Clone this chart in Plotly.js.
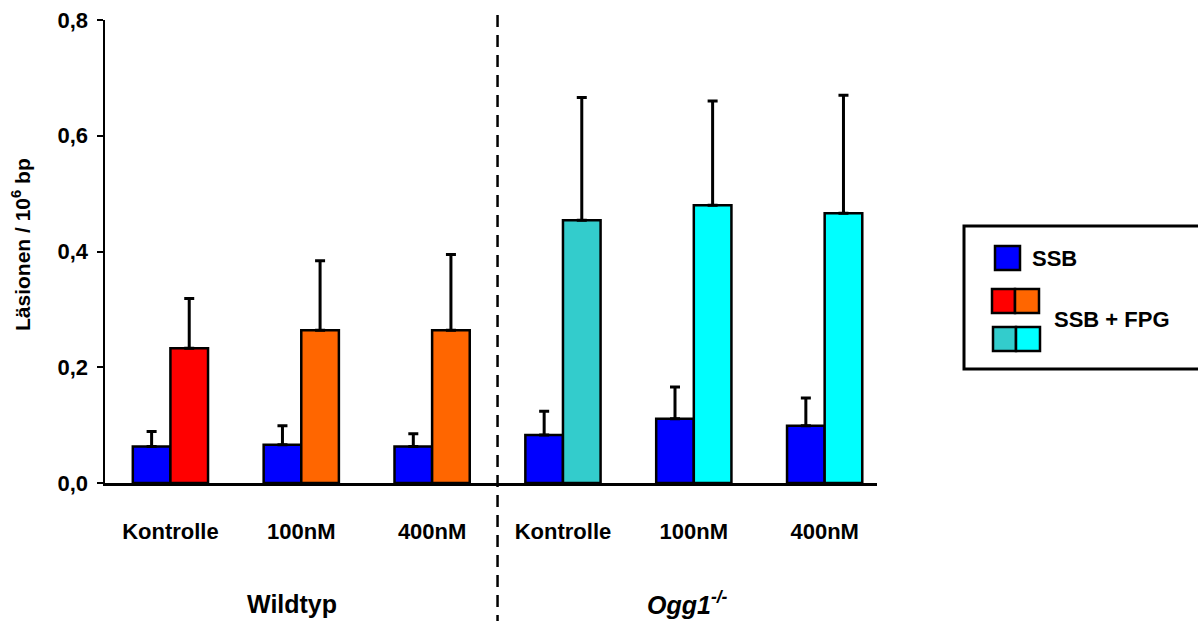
<!DOCTYPE html>
<html>
<head>
<meta charset="utf-8">
<script src="https://cdn.plot.ly/plotly-3.0.1.min.js"></script>
<style>html,body{margin:0;padding:0;background:#fff;}#chart{width:1198px;height:621px;}</style>
</head>
<body>
<div id="chart"></div>
<script>
// ---- data ----
const categories = ["Kontrolle", "100nM", "400nM", "Kontrolle", "100nM", "400nM"];
const groups = ["Wildtyp", "Ogg1"];
const ssbValues = [0.063, 0.066, 0.063, 0.083, 0.111, 0.099];
const ssbErrors = [0.026, 0.033, 0.022, 0.041, 0.055, 0.048];
const fpgValues = [0.233, 0.264, 0.264, 0.454, 0.480, 0.466];
const fpgErrors = [0.086, 0.120, 0.131, 0.212, 0.180, 0.204];
const yTickVals = [0, 0.2, 0.4, 0.6, 0.8];
const yTickText = ["0,0", "0,2", "0,4", "0,6", "0,8"];

// ---- styles ----
const ssbColor = "#0000FF";
const fpgColors = ["#FF0000", "#FF6600", "#FF6600", "#33CCCC", "#00FFFF", "#00FFFF"];
const FONT = "Liberation Sans, Arial, sans-serif";
const W = 1198, H = 621;
const L = 105, R = 877, T = 20, B = 483;
const px = x => (x - L) / (R - L);
const py = y => (B - y) / (B - T);

const xIdx = categories.map((_, i) => i);
const errStyle = {type: "data", symmetric: false, color: "#000", thickness: 3, width: 5};

const traces = [
  {
    type: "bar", name: "SSB", x: xIdx, y: ssbValues,
    marker: {color: ssbColor, line: {color: "#000", width: 2.5}},
    error_y: Object.assign({array: ssbErrors, arrayminus: ssbErrors.map(() => 0)}, errStyle),
    showlegend: false, hoverinfo: "y"
  },
  {
    type: "bar", name: "SSB + FPG", x: xIdx, y: fpgValues,
    marker: {color: fpgColors, line: {color: "#000", width: 2.5}},
    error_y: Object.assign({array: fpgErrors, arrayminus: fpgErrors.map(() => 0)}, errStyle),
    showlegend: false, hoverinfo: "y"
  }
];

const tickFont = {family: FONT, size: 22, color: "#000", weight: "bold"};
const catFont = {family: FONT, size: 22, color: "#000", weight: "bold"};
const grpFont = {family: FONT, size: 25, color: "#000", weight: "bold"};
const legFont = {family: FONT, size: 22, color: "#000", weight: "bold"};

const shapes = [
  // divider
  {type: "line", xref: "x", yref: "paper", x0: 2.5, x1: 2.5, y0: py(15), y1: py(625),
   line: {color: "#000", width: 2.5, dash: "12px,8px"}},
  // legend box
  {type: "rect", xref: "paper", yref: "paper", x0: px(964), x1: px(1210), y0: py(226), y1: py(369),
   line: {color: "#000", width: 3}, fillcolor: "rgba(0,0,0,0)"},
  {type: "rect", xref: "paper", yref: "paper", x0: px(995), x1: px(1020), y0: py(246), y1: py(270),
   line: {color: "#000", width: 2.5}, fillcolor: ssbColor},
  {type: "rect", xref: "paper", yref: "paper", x0: px(992), x1: px(1015), y0: py(289), y1: py(313),
   line: {color: "#000", width: 2.5}, fillcolor: fpgColors[0]},
  {type: "rect", xref: "paper", yref: "paper", x0: px(1015), x1: px(1039), y0: py(289), y1: py(313),
   line: {color: "#000", width: 2.5}, fillcolor: fpgColors[1]},
  {type: "rect", xref: "paper", yref: "paper", x0: px(993), x1: px(1016), y0: py(327), y1: py(351),
   line: {color: "#000", width: 2.5}, fillcolor: fpgColors[3]},
  {type: "rect", xref: "paper", yref: "paper", x0: px(1016), x1: px(1040), y0: py(327), y1: py(351),
   line: {color: "#000", width: 2.5}, fillcolor: fpgColors[4]}
];

const annotations = [
  {text: groups[0], xref: "paper", yref: "paper", x: px(292), y: py(604), xanchor: "center", yanchor: "middle",
   showarrow: false, font: grpFont},
  {text: "<i>" + groups[1] + "</i><sup><i>-/-</i></sup>", xref: "paper", yref: "paper", x: px(687), y: py(603),
   xanchor: "center", yanchor: "middle", showarrow: false, font: grpFont},
  {text: traces[0].name, xref: "paper", yref: "paper", x: px(1030), y: py(258), xanchor: "left", yanchor: "middle",
   showarrow: false, font: legFont},
  {text: traces[1].name, xref: "paper", yref: "paper", x: px(1052), y: py(319), xanchor: "left", yanchor: "middle",
   showarrow: false, font: legFont},
  {text: "Läsionen / 10<sup>6</sup> bp", xref: "paper", yref: "paper", x: px(21), y: py(245), xanchor: "center",
   yanchor: "middle", textangle: -90, showarrow: false, font: {family: FONT, size: 21, color: "#000", weight: "bold"}}
];

const layout = {
  width: W, height: H,
  margin: {l: L, r: W - R, t: T, b: H - B, pad: 0},
  paper_bgcolor: "#fff", plot_bgcolor: "#fff",
  barmode: "group", bargap: 0.425, bargroupgap: 0,
  font: {family: FONT, color: "#000"},
  xaxis: {
    range: [-0.5, 5.4], tickmode: "array", tickvals: xIdx, ticktext: categories,
    ticks: "", showgrid: false, zeroline: false, showline: true, linecolor: "#000", linewidth: 2.5,
    tickfont: catFont, ticklabelstandoff: 27, fixedrange: true
  },
  yaxis: {
    range: [0, 0.8], tickmode: "array", tickvals: yTickVals, ticktext: yTickText,
    ticks: "outside", ticklen: 6, tickwidth: 2, tickcolor: "#000",
    showgrid: false, zeroline: false, showline: true, linecolor: "#000", linewidth: 2.5,
    tickfont: tickFont, ticklabelstandoff: 4,
    fixedrange: true
  },
  shapes: shapes,
  annotations: annotations
};

Plotly.newPlot("chart", traces, layout, {displayModeBar: false, staticPlot: true});
</script>
</body>
</html>
